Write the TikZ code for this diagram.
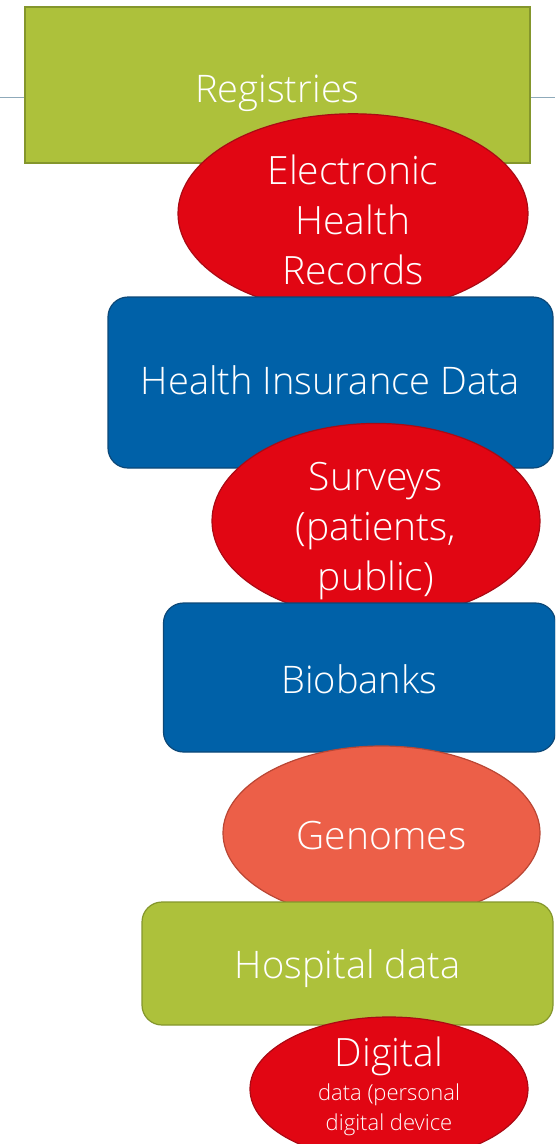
\documentclass[tikz,border=0pt]{standalone}
\usepackage{fontspec}
\IfFontExistsTF{Open Sans Light}{\setmainfont{Open Sans Light}}{\setmainfont{Open Sans}}
\usetikzlibrary{shapes.geometric}
\definecolor{regcol}{RGB}{173,193,59}
\definecolor{regline}{RGB}{132,150,44}
\definecolor{ehrcol}{RGB}{225,6,19}
\definecolor{ehrline}{RGB}{170,10,20}
\definecolor{inscol}{RGB}{0,97,168}
\definecolor{insline}{RGB}{12,72,120}
\definecolor{gencol}{RGB}{236,95,72}
\definecolor{genline}{RGB}{185,70,52}
\definecolor{rulecol}{RGB}{143,170,186}
\newcommand{\smalltxt}{\fontsize{22}{30}\selectfont}

\begin{document}
\begin{tikzpicture}[x=1pt,y=-1pt,
  srcbox/.style={draw,line width=1.2pt,rounded corners=20pt,inner sep=0pt,text=white,align=center,
    font=\fontsize{38}{44}\selectfont,text height=32pt,text depth=0pt},
  srcoval/.style={ellipse,draw,line width=1.2pt,inner sep=0pt,text=white,align=center,
    font=\fontsize{39}{50}\selectfont,text height=32pt,text depth=0pt}]
\useasboundingbox (0,0) rectangle (555,1144);
\clip (0,0) rectangle (555,1144);
\draw[rulecol,line width=1pt] (0,97) -- (555,97);
\node[srcbox,rounded corners=0pt,fill=regcol,draw=regline,minimum width=505pt,minimum height=156pt,text height=34pt] (reg) at (277.5,85) {Registries};
\node[srcoval,fill=ehrcol,draw=ehrline,minimum width=350pt,minimum height=183pt,text height=141pt] (ehr) at (353,213.5) {Electronic\\Health\\Records};
\node[srcbox,fill=inscol,draw=insline,minimum width=445pt,minimum height=171pt,text height=23pt] (ins) at (330.5,382.5) {Health Insurance Data};
\node[srcoval,fill=ehrcol,draw=ehrline,minimum width=328pt,minimum height=178pt,text height=138pt] (srv) at (376,521) {Surveys\\(patients,\\public)};
\node[srcbox,fill=inscol,draw=insline,minimum width=392pt,minimum height=149pt] (bio) at (359.5,677.5) {Biobanks};
\node[srcoval,fill=gencol,draw=genline,minimum width=317pt,minimum height=174pt] (gen) at (381.5,833) {Genomes};
\node[srcbox,fill=regcol,draw=regline,minimum width=411pt,minimum height=123pt,text height=30pt] (hosp) at (347.5,963.5) {Hospital data};
\node[srcoval,fill=ehrcol,draw=ehrline,minimum width=278pt,minimum height=144pt,font=\fontsize{39}{44}\selectfont,text height=82pt] (dig) at (389,1089) {Digital\\[-10pt]\smalltxt data (personal\\[-14pt]\smalltxt digital device};
\end{tikzpicture}
\end{document}
